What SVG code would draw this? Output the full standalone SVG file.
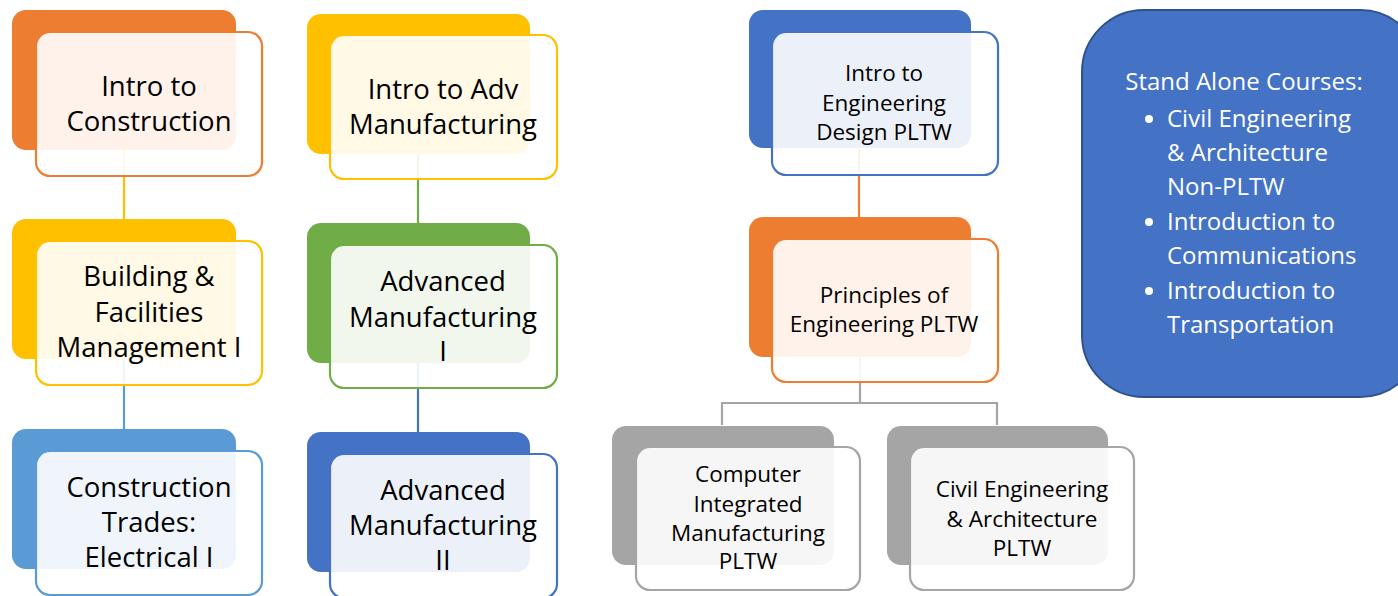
<svg xmlns="http://www.w3.org/2000/svg" width="1398" height="596" viewBox="0 0 1398 596">
<style>
.back{stroke:none}
.front{fill:#ffffff;fill-opacity:0.9;stroke-width:2.2}
.t{font-family:"Open Sans","Liberation Sans",sans-serif;fill:#000000;text-anchor:middle}
.big{font-size:27.5px}
.mid{font-size:22.5px}
.conn{fill:none;stroke-width:2.2}
.o{fill:#ed7d31}.os{stroke:#ed7d31}
.y{fill:#ffc000}.ys{stroke:#ffc000}
.lb{fill:#5b9bd5}.lbs{stroke:#5b9bd5}
.g{fill:#70ad47}.gs{stroke:#70ad47}
.b{fill:#4472c4}.bs{stroke:#4472c4}
.gr{fill:#a5a5a5}.grs{stroke:#a5a5a5}
.st{font-family:"Open Sans","Liberation Sans",sans-serif;fill:#ffffff;font-size:24px}
</style>
<rect width="1398" height="596" fill="#ffffff"/>
<g id="connectors">
<line class="conn ys" x1="124" y1="150" x2="124" y2="219"/>
<line class="conn lbs" x1="124" y1="359" x2="124" y2="429"/>
<line class="conn gs" x1="418" y1="154" x2="418" y2="223"/>
<line class="conn bs" x1="418" y1="363" x2="418" y2="432"/>
<line class="conn os" x1="859" y1="148" x2="859" y2="217"/>
<path class="conn grs" d="M860,357 V403 M722,403 H997 M722,402 V425 M997,402 V425"/>
</g>
<g id="n-intro-construction">
<rect class="back o" x="12" y="10" width="224" height="140" rx="14"/>
<rect class="front os" x="36" y="32" width="226" height="144" rx="14"/>
<text class="t big" x="149" y="96">Intro to</text>
<text class="t big" x="149" y="131">Construction</text>
</g>
<g id="n-building">
<rect class="back y" x="12" y="219" width="224" height="140" rx="14"/>
<rect class="front ys" x="36" y="241" width="226" height="144" rx="14"/>
<text class="t big" x="149" y="286">Building &amp;</text>
<text class="t big" x="149" y="322">Facilities</text>
<text class="t big" x="149" y="357">Management I</text>
</g>
<g id="n-trades">
<rect class="back lb" x="12" y="429" width="224" height="140" rx="14"/>
<rect class="front lbs" x="36" y="451" width="226" height="144" rx="14"/>
<text class="t big" x="149" y="497">Construction</text>
<text class="t big" x="149" y="532">Trades:</text>
<text class="t big" x="149" y="567">Electrical I</text>
</g>
<g id="n-intro-adv">
<rect class="back y" x="307" y="14" width="223" height="140" rx="14"/>
<rect class="front ys" x="330" y="35" width="227" height="144" rx="14"/>
<text class="t big" x="443" y="99">Intro to Adv</text>
<text class="t big" x="443" y="134">Manufacturing</text>
</g>
<g id="n-adv-1">
<rect class="back g" x="307" y="223" width="223" height="140" rx="14"/>
<rect class="front gs" x="330" y="245" width="227" height="143" rx="14"/>
<text class="t big" x="443" y="291">Advanced</text>
<text class="t big" x="443" y="327">Manufacturing</text>
<text class="t big" x="443" y="361">I</text>
</g>
<g id="n-adv-2">
<rect class="back b" x="307" y="432" width="223" height="140" rx="14"/>
<rect class="front bs" x="330" y="454" width="227" height="144" rx="14"/>
<text class="t big" x="443" y="500">Advanced</text>
<text class="t big" x="443" y="535">Manufacturing</text>
<text class="t big" x="443" y="570">II</text>
</g>
<g id="n-ied">
<rect class="back b" x="749" y="10" width="222" height="138" rx="14"/>
<rect class="front bs" x="772" y="32" width="226" height="143" rx="14"/>
<text class="t mid" x="884" y="81">Intro to</text>
<text class="t mid" x="884" y="111">Engineering</text>
<text class="t mid" x="884" y="140">Design PLTW</text>
</g>
<g id="n-poe">
<rect class="back o" x="749" y="217" width="222" height="140" rx="14"/>
<rect class="front os" x="772" y="239" width="226" height="143" rx="14"/>
<text class="t mid" x="884" y="303">Principles of</text>
<text class="t mid" x="884" y="332">Engineering PLTW</text>
</g>
<g id="n-cim">
<rect class="back gr" x="612" y="426" width="222" height="139" rx="14"/>
<rect class="front grs" x="636" y="447" width="224" height="143" rx="14"/>
<text class="t mid" x="748" y="482">Computer</text>
<text class="t mid" x="748" y="512">Integrated</text>
<text class="t mid" x="748" y="541">Manufacturing</text>
<text class="t mid" x="748" y="569">PLTW</text>
</g>
<g id="n-cea">
<rect class="back gr" x="887" y="426" width="221" height="139" rx="14"/>
<rect class="front grs" x="910" y="447" width="224" height="143" rx="14"/>
<text class="t mid" x="1022" y="497">Civil Engineering</text>
<text class="t mid" x="1022" y="527">&amp; Architecture</text>
<text class="t mid" x="1022" y="556">PLTW</text>
</g>
<g id="n-standalone">
<rect x="1082" y="10" width="340" height="387" rx="62" fill="#4472c4" stroke="#2f528f" stroke-width="2"/>
<text class="st" x="1244" y="90" text-anchor="middle">Stand Alone Courses:</text>
<circle cx="1149" cy="119" r="4" fill="#ffffff"/>
<circle cx="1149" cy="222" r="4" fill="#ffffff"/>
<circle cx="1149" cy="291" r="4" fill="#ffffff"/>
<text class="st" x="1167" y="127">Civil Engineering</text>
<text class="st" x="1167" y="161">&amp; Architecture</text>
<text class="st" x="1167" y="195">Non-PLTW</text>
<text class="st" x="1167" y="230">Introduction to</text>
<text class="st" x="1167" y="264">Communications</text>
<text class="st" x="1167" y="299">Introduction to</text>
<text class="st" x="1167" y="333">Transportation</text>
</g>
</svg>
